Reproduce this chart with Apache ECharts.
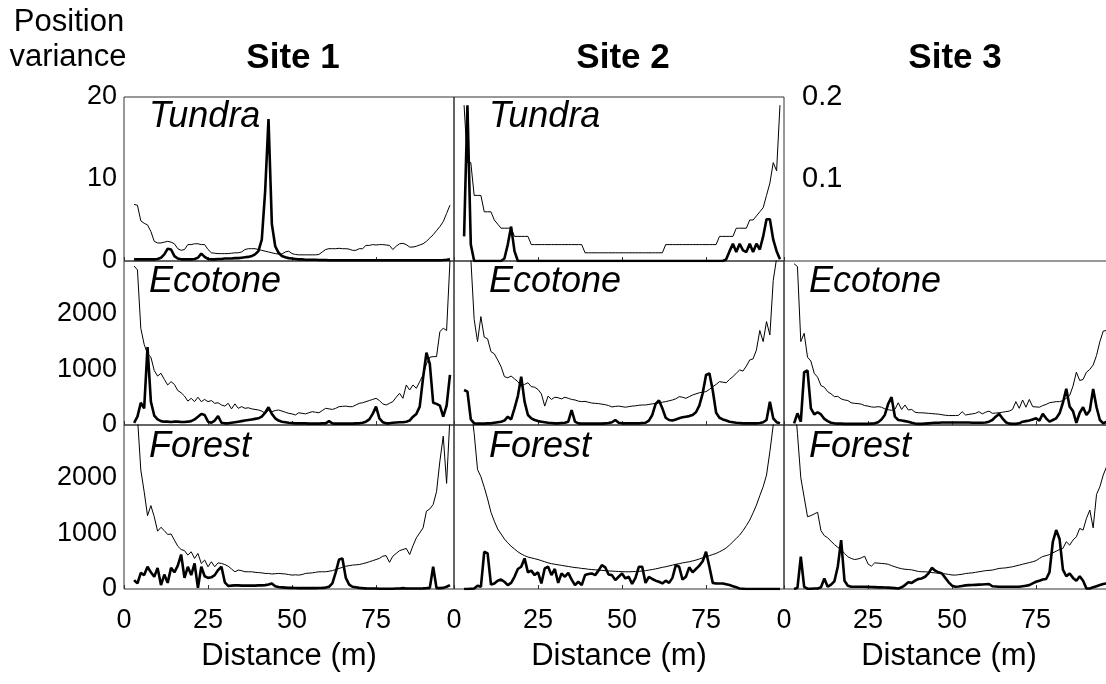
<!DOCTYPE html>
<html>
<head>
<meta charset="utf-8">
<script src="https://cdn.jsdelivr.net/npm/echarts@6/dist/echarts.min.js"></script>
<style>
html, body { margin: 0; padding: 0; background: #fff; }
#chart { width: 1106px; height: 684px; }
</style>
</head>
<body>
<div id="chart"></div>
<script>
// Distance along the transect (m)
const distance = [3,4,5,6,7,8,9,10,11,12,13,14,15,16,17,18,19,20,21,22,23,24,25,26,27,28,29,30,31,32,33,34,35,36,37,38,39,40,41,42,43,44,45,46,47,48,49,50,51,52,53,54,55,56,57,58,59,60,61,62,63,64,65,66,67,68,69,70,71,72,73,74,75,76,77,78,79,80,81,82,83,84,85,86,87,88,89,90,91,92,93,94,95,96,97];

const sites = ['Site 1', 'Site 2', 'Site 3'];
const zones = ['Tundra', 'Ecotone', 'Forest'];
const xTickStep = 25;
const tundraTicks = [0, 10, 20];
const tundraTicksSite2 = [0.1, 0.2];
const standTicks = [0, 1000, 2000];

// thin line: expected variance; thick line: observed position variance
const s1TundraExp = [6.9,6.8,4.9,4.6,4.4,3.6,2.4,2.2,2.2,2.3,
  2.4,2.3,2.1,1.5,1.3,1.4,2.0,2.0,2.1,2.1,
  2.0,2.0,1.4,1.0,0.95,0.9,0.9,0.9,0.9,0.95,
  1.0,1.0,1.1,1.4,1.5,1.5,1.5,1.4,1.3,1.2,
  1.1,1.0,0.9,0.85,0.85,1.1,1.2,0.9,0.8,0.75,
  0.75,0.75,0.75,0.75,0.75,0.8,1.1,1.4,1.5,1.5,
  1.5,1.55,1.5,1.5,1.45,1.3,1.3,1.5,1.5,1.9,
  1.9,2.0,1.95,2.0,2.0,1.95,1.9,1.4,1.8,2.1,
  2.15,2.0,1.7,1.7,1.8,1.95,2.1,2.4,2.8,3.2,
  3.7,4.2,4.8,5.8,6.8];
const s1TundraObs = [0.2,0.2,0.2,0.2,0.2,0.2,0.2,0.25,0.4,0.8,
  1.5,1.4,0.6,0.3,0.2,0.2,0.2,0.2,0.25,0.4,
  0.9,0.5,0.25,0.2,0.2,0.25,0.25,0.3,0.3,0.3,
  0.35,0.35,0.4,0.45,0.5,0.6,0.8,1.2,2.6,8.5,
  17.3,4.5,1.8,1.0,0.6,0.45,0.35,0.3,0.25,0.2,
  0.2,0.15,0.15,0.15,0.15,0.12,0.12,0.12,0.1,0.1,
  0.1,0.1,0.1,0.1,0.1,0.1,0.1,0.1,0.1,0.1,
  0.1,0.1,0.1,0.1,0.1,0.1,0.1,0.1,0.1,0.1,
  0.1,0.1,0.1,0.1,0.1,0.1,0.1,0.1,0.1,0.1,
  0.1,0.1,0.12,0.15,0.2];

const s2TundraExp = [0.19,0.12,0.12,0.08,0.08,0.08,0.06,0.06,0.06,0.05,
  0.045,0.04,0.04,0.04,0.04,0.03,0.03,0.03,0.03,0.03,
  0.02,0.02,0.02,0.02,0.02,0.02,0.02,0.02,0.02,0.02,
  0.02,0.02,0.02,0.02,0.02,0.02,0.01,0.01,0.01,0.01,
  0.01,0.01,0.01,0.01,0.01,0.01,0.01,0.01,0.01,0.01,
  0.01,0.01,0.01,0.01,0.01,0.01,0.01,0.01,0.01,0.01,
  0.02,0.02,0.02,0.02,0.02,0.02,0.02,0.02,0.02,0.02,
  0.02,0.02,0.02,0.02,0.02,0.02,0.03,0.03,0.03,0.03,
  0.03,0.04,0.04,0.04,0.04,0.05,0.05,0.055,0.06,0.065,
  0.08,0.095,0.12,0.11,0.19];
const s2TundraObs = [0.03,0.19,0.02,0,0,0,0,0,0,0,
  0,0,0.003,0.02,0.042,0.012,0,0,0,0,
  0,0,0,0,0,0,0,0,0,0,
  0,0,0,0,0,0,0,0,0,0,
  0,0,0,0,0,0,0,0,0,0,
  0,0,0,0,0,0,0,0,0,0,
  0,0,0,0,0,0,0,0,0,0,
  0,0,0,0,0,0,0,0,0.002,0.012,
  0.021,0.011,0.021,0.013,0.011,0.021,0.011,0.021,0.014,0.03,
  0.051,0.051,0.026,0.012,0.002];

const s1EcotoneExp = [2860,2790,1740,1450,1280,1220,980,880,930,820,
  720,780,730,620,580,520,430,480,420,500,
  420,460,420,440,390,400,360,340,390,290,
  380,300,330,300,310,290,280,270,250,210,
  260,240,260,270,250,230,210,200,180,220,
  210,200,220,240,230,220,260,300,290,280,
  300,330,335,340,330,330,360,390,400,420,
  440,460,480,440,380,360,390,420,500,570,
  480,720,630,720,660,780,900,1100,1220,1230,
  1230,1680,1740,1700,2950];
const s1EcotoneObs = [40,150,400,300,1400,420,170,100,70,60,
  60,55,60,60,55,55,60,70,100,150,
  200,180,60,40,80,160,40,30,30,40,
  50,60,70,80,90,100,110,120,150,220,
  320,200,120,80,60,50,40,35,30,30,
  30,30,25,25,25,25,30,30,70,30,
  25,25,25,25,25,25,30,30,40,60,
  100,200,330,120,50,30,30,40,45,50,
  50,60,80,150,200,330,850,1300,1100,400,
  380,350,150,350,900];

const s2EcotoneExp = [4000,3500,3000,1900,1500,1950,1580,1550,1320,1280,
  1170,1050,870,850,880,830,780,700,730,760,
  690,680,640,560,340,520,460,500,490,470,
  500,480,460,450,430,420,425,410,395,390,
  385,375,365,350,325,335,340,330,320,330,
  340,345,355,360,360,370,380,390,400,410,
  420,435,450,470,510,500,480,510,540,560,
  580,590,600,640,690,730,780,770,760,820,
  870,930,990,970,1060,1170,1190,1350,1700,1500,
  1860,1620,2600,3000,3500];
const s2EcotoneObs = [630,600,100,30,25,25,25,30,30,40,
  50,60,80,150,100,300,520,870,420,180,
  120,90,70,60,50,40,35,30,30,35,
  40,60,270,60,30,25,25,25,25,25,
  25,25,30,35,50,90,40,30,30,30,
  30,30,30,35,40,80,180,380,440,300,
  130,90,80,100,120,140,150,160,180,230,
  350,570,900,930,620,220,130,100,80,60,
  50,40,35,30,30,30,30,30,35,50,
  90,420,120,50,30];

const s3EcotoneExp = [2900,2850,1500,1650,1220,1150,930,860,710,680,
  600,560,510,515,470,450,440,400,390,385,
  375,350,340,325,320,330,320,290,275,265,
  280,400,280,360,270,280,230,220,220,215,
  210,205,200,195,185,175,170,170,170,175,
  240,180,190,200,210,240,200,230,250,210,
  215,220,230,240,250,280,420,300,450,320,
  460,330,325,320,350,370,400,410,420,420,
  440,480,530,700,950,800,820,950,1000,1080,
  1250,1500,1690,1700,1750];
const s3EcotoneObs = [30,210,60,950,980,300,190,230,190,110,
  70,40,30,25,25,20,20,20,20,20,
  20,20,20,25,30,50,100,180,380,500,
  150,90,80,70,60,40,25,20,20,25,
  30,35,40,40,45,45,45,45,45,45,
  45,45,45,40,40,40,40,45,60,90,
  150,200,120,50,25,20,20,30,60,70,
  80,100,120,80,200,120,60,90,120,210,
  400,650,330,250,40,220,320,180,260,650,
  320,90,30,60,80];

const s1ForestExp = [3600,3100,2140,1750,1320,1500,1300,1040,1110,1050,
  980,990,880,770,710,690,610,670,550,640,
  460,520,400,490,400,470,460,440,410,360,
  310,340,330,310,310,310,300,295,290,280,
  280,270,275,280,275,270,260,250,255,250,
  260,280,285,290,300,310,310,310,320,330,
  350,370,390,410,420,430,435,440,455,470,
  490,510,530,550,590,600,480,590,640,690,
  710,730,620,780,920,1010,1100,1400,1440,1520,
  1750,2300,2750,1900,3100];
const s1ForestObs = [160,100,290,250,400,300,220,380,70,260,
  110,380,300,420,620,200,400,250,460,20,
  400,230,200,210,250,340,400,120,55,60,
  65,65,60,60,60,60,60,65,65,70,
  80,100,50,35,30,25,20,20,18,15,
  15,15,15,15,15,18,20,25,40,100,
  300,530,550,200,80,40,30,20,15,12,
  10,10,8,5,5,5,5,5,8,10,
  15,10,8,8,10,10,12,15,20,400,
  15,15,20,40,70];

const s2ForestExp = [4500,3800,3300,2800,2150,2020,1830,1620,1380,1220,
  1080,990,900,830,770,720,670,630,600,575,
  560,545,530,510,490,470,455,445,435,425,
  415,405,395,385,380,370,365,355,350,345,
  340,335,330,325,322,318,315,312,310,310,
  312,315,318,322,330,340,350,362,375,390,
  400,415,430,445,455,470,480,490,505,520,
  540,560,580,600,620,640,670,700,740,790,
  850,910,970,1050,1140,1240,1370,1510,1680,1840,
  2050,2470,2950,3500,4000];
const s2ForestObs = [0,0,5,10,60,40,670,640,80,100,
  150,170,130,70,110,220,360,400,550,300,
  330,250,300,100,370,400,250,360,110,280,
  220,290,170,70,130,70,250,270,280,250,
  330,430,390,260,250,160,220,280,190,220,
  90,200,400,400,110,220,180,150,130,100,
  150,110,200,430,400,170,220,390,300,360,
  420,500,670,400,110,100,100,100,85,70,
  50,30,10,5,0,0,0,0,0,0,
  0,0,0,0,0];

const s3ForestExp = [3500,2800,2000,1650,1300,1320,1350,1380,1050,960,
  920,860,800,750,710,640,580,550,530,540,
  560,590,450,410,470,465,460,455,445,420,
  400,380,365,355,350,345,330,315,310,310,
  305,295,290,282,278,272,262,252,250,258,
  265,278,285,290,300,310,320,330,335,340,
  355,370,375,380,390,400,415,430,445,460,
  475,490,510,550,585,600,620,650,680,710,
  730,850,790,880,940,1090,1060,1270,1420,1100,
  1700,1840,2050,2200,2400];
const s3ForestObs = [0,20,580,40,5,5,8,10,30,190,
  40,80,140,400,880,150,60,40,40,40,
  40,40,38,35,33,30,30,28,25,20,
  15,10,30,70,120,110,150,180,190,220,
  280,380,330,300,280,200,120,60,40,45,
  55,65,70,72,75,78,80,85,90,50,
  45,40,40,40,40,40,40,40,50,60,
  70,100,130,150,170,180,300,850,1060,900,
  350,230,280,200,150,230,150,10,10,30,
  50,70,90,100,110];

const panels = [
  { col: 0, row: 0, exp: s1TundraExp, obs: s1TundraObs },
  { col: 1, row: 0, exp: s2TundraExp, obs: s2TundraObs },
  { col: 0, row: 1, exp: s1EcotoneExp, obs: s1EcotoneObs },
  { col: 1, row: 1, exp: s2EcotoneExp, obs: s2EcotoneObs },
  { col: 2, row: 1, exp: s3EcotoneExp, obs: s3EcotoneObs },
  { col: 0, row: 2, exp: s1ForestExp, obs: s1ForestObs },
  { col: 1, row: 2, exp: s2ForestExp, obs: s2ForestObs },
  { col: 2, row: 2, exp: s3ForestExp, obs: s3ForestObs }
];

const FONT = '"Liberation Sans", Arial, sans-serif';
const colLeft = [124, 454, 784];
const rowTop = [97, 261, 425];
const labelCenterY = [117, 282, 447];
const PANEL_W = 330;
const PANEL_H = 164;
const X_MAX = 98.2;
const STAND_MAX = 2950;

const grids = [], xAxes = [], yAxes = [], series = [], texts = [];

panels.forEach((p, i) => {
  const rightScale = p.row === 0 && p.col === 1;
  grids.push({
    left: colLeft[p.col], top: rowTop[p.row], width: PANEL_W, height: PANEL_H,
    show: true, borderColor: '#333', borderWidth: 1, backgroundColor: 'transparent',
    outerBoundsMode: 'none', containLabel: false
  });
  xAxes.push({
    gridIndex: i, type: 'value', min: 0, max: X_MAX, interval: xTickStep,
    axisLine: { show: false }, splitLine: { show: false },
    axisTick: { show: true, inside: true, length: 4, lineStyle: { color: '#333' } },
    axisLabel: {
      show: p.row === 2, fontSize: 27, fontFamily: FONT, color: '#000', margin: 18,
      showMaxLabel: false, showMinLabel: true, formatter: v => String(v)
    },
    name: p.row === 2 ? 'Distance (m)' : '', nameLocation: 'middle', nameGap: 52,
    nameTextStyle: { fontSize: 31, fontFamily: FONT, color: '#000' }
  });
  let yMax, yInt;
  if (p.row === 0) {
    yMax = rightScale ? tundraTicksSite2[tundraTicksSite2.length - 1] : tundraTicks[tundraTicks.length - 1];
    yInt = rightScale ? tundraTicksSite2[0] : tundraTicks[1];
  } else {
    yMax = STAND_MAX;
    yInt = standTicks[1];
  }
  yAxes.push({
    gridIndex: i, type: 'value', min: 0, max: yMax, interval: yInt,
    position: rightScale ? 'right' : 'left',
    axisLine: { show: false }, axisTick: { show: false }, splitLine: { show: false },
    axisLabel: {
      show: p.col === 0 || rightScale,
      fontSize: rightScale ? 29 : 27, fontFamily: FONT, color: '#000',
      margin: rightScale ? 18 : 7,
      showMaxLabel: p.row === 0, showMinLabel: !rightScale,
      formatter: v => rightScale ? v.toFixed(1) : String(Math.round(v))
    }
  });
  series.push({
    type: 'line', xAxisIndex: i, yAxisIndex: i, clip: true, showSymbol: false, silent: true,
    lineStyle: { color: '#000', width: 1 },
    data: distance.map((d, k) => [d, p.exp[k]])
  });
  series.push({
    type: 'line', xAxisIndex: i, yAxisIndex: i, clip: true, showSymbol: false, silent: true,
    lineStyle: { color: '#000', width: 2.6 },
    data: distance.map((d, k) => [d, p.obs[k]])
  });
  texts.push({
    type: 'text', z: 10,
    x: colLeft[p.col] + (p.col === 1 ? 35 : 25),
    y: labelCenterY[p.row],
    style: { text: zones[p.row], font: 'italic 36px ' + FONT, fill: '#000', verticalAlign: 'middle' }
  });
});

// column titles
const titleX = [293, 623, 955];
sites.forEach((s, c) => {
  texts.push({
    type: 'text', z: 10, x: titleX[c], y: 58,
    style: { text: s, font: 'bold 35px ' + FONT, fill: '#000', align: 'center', verticalAlign: 'middle' }
  });
});
// y-axis title
texts.push({
  type: 'text', z: 10, x: 69, y: 22,
  style: { text: 'Position', font: '31px ' + FONT, fill: '#000', align: 'center', verticalAlign: 'middle' }
});
texts.push({
  type: 'text', z: 10, x: 68, y: 57,
  style: { text: 'variance', font: '31px ' + FONT, fill: '#000', align: 'center', verticalAlign: 'middle' }
});

const chart = echarts.init(document.getElementById('chart'), null, { renderer: 'canvas' });
chart.setOption({
  animation: false,
  backgroundColor: '#fff',
  textStyle: { fontFamily: FONT },
  grid: grids,
  xAxis: xAxes,
  yAxis: yAxes,
  series: series,
  graphic: texts
});
</script>
</body>
</html>
